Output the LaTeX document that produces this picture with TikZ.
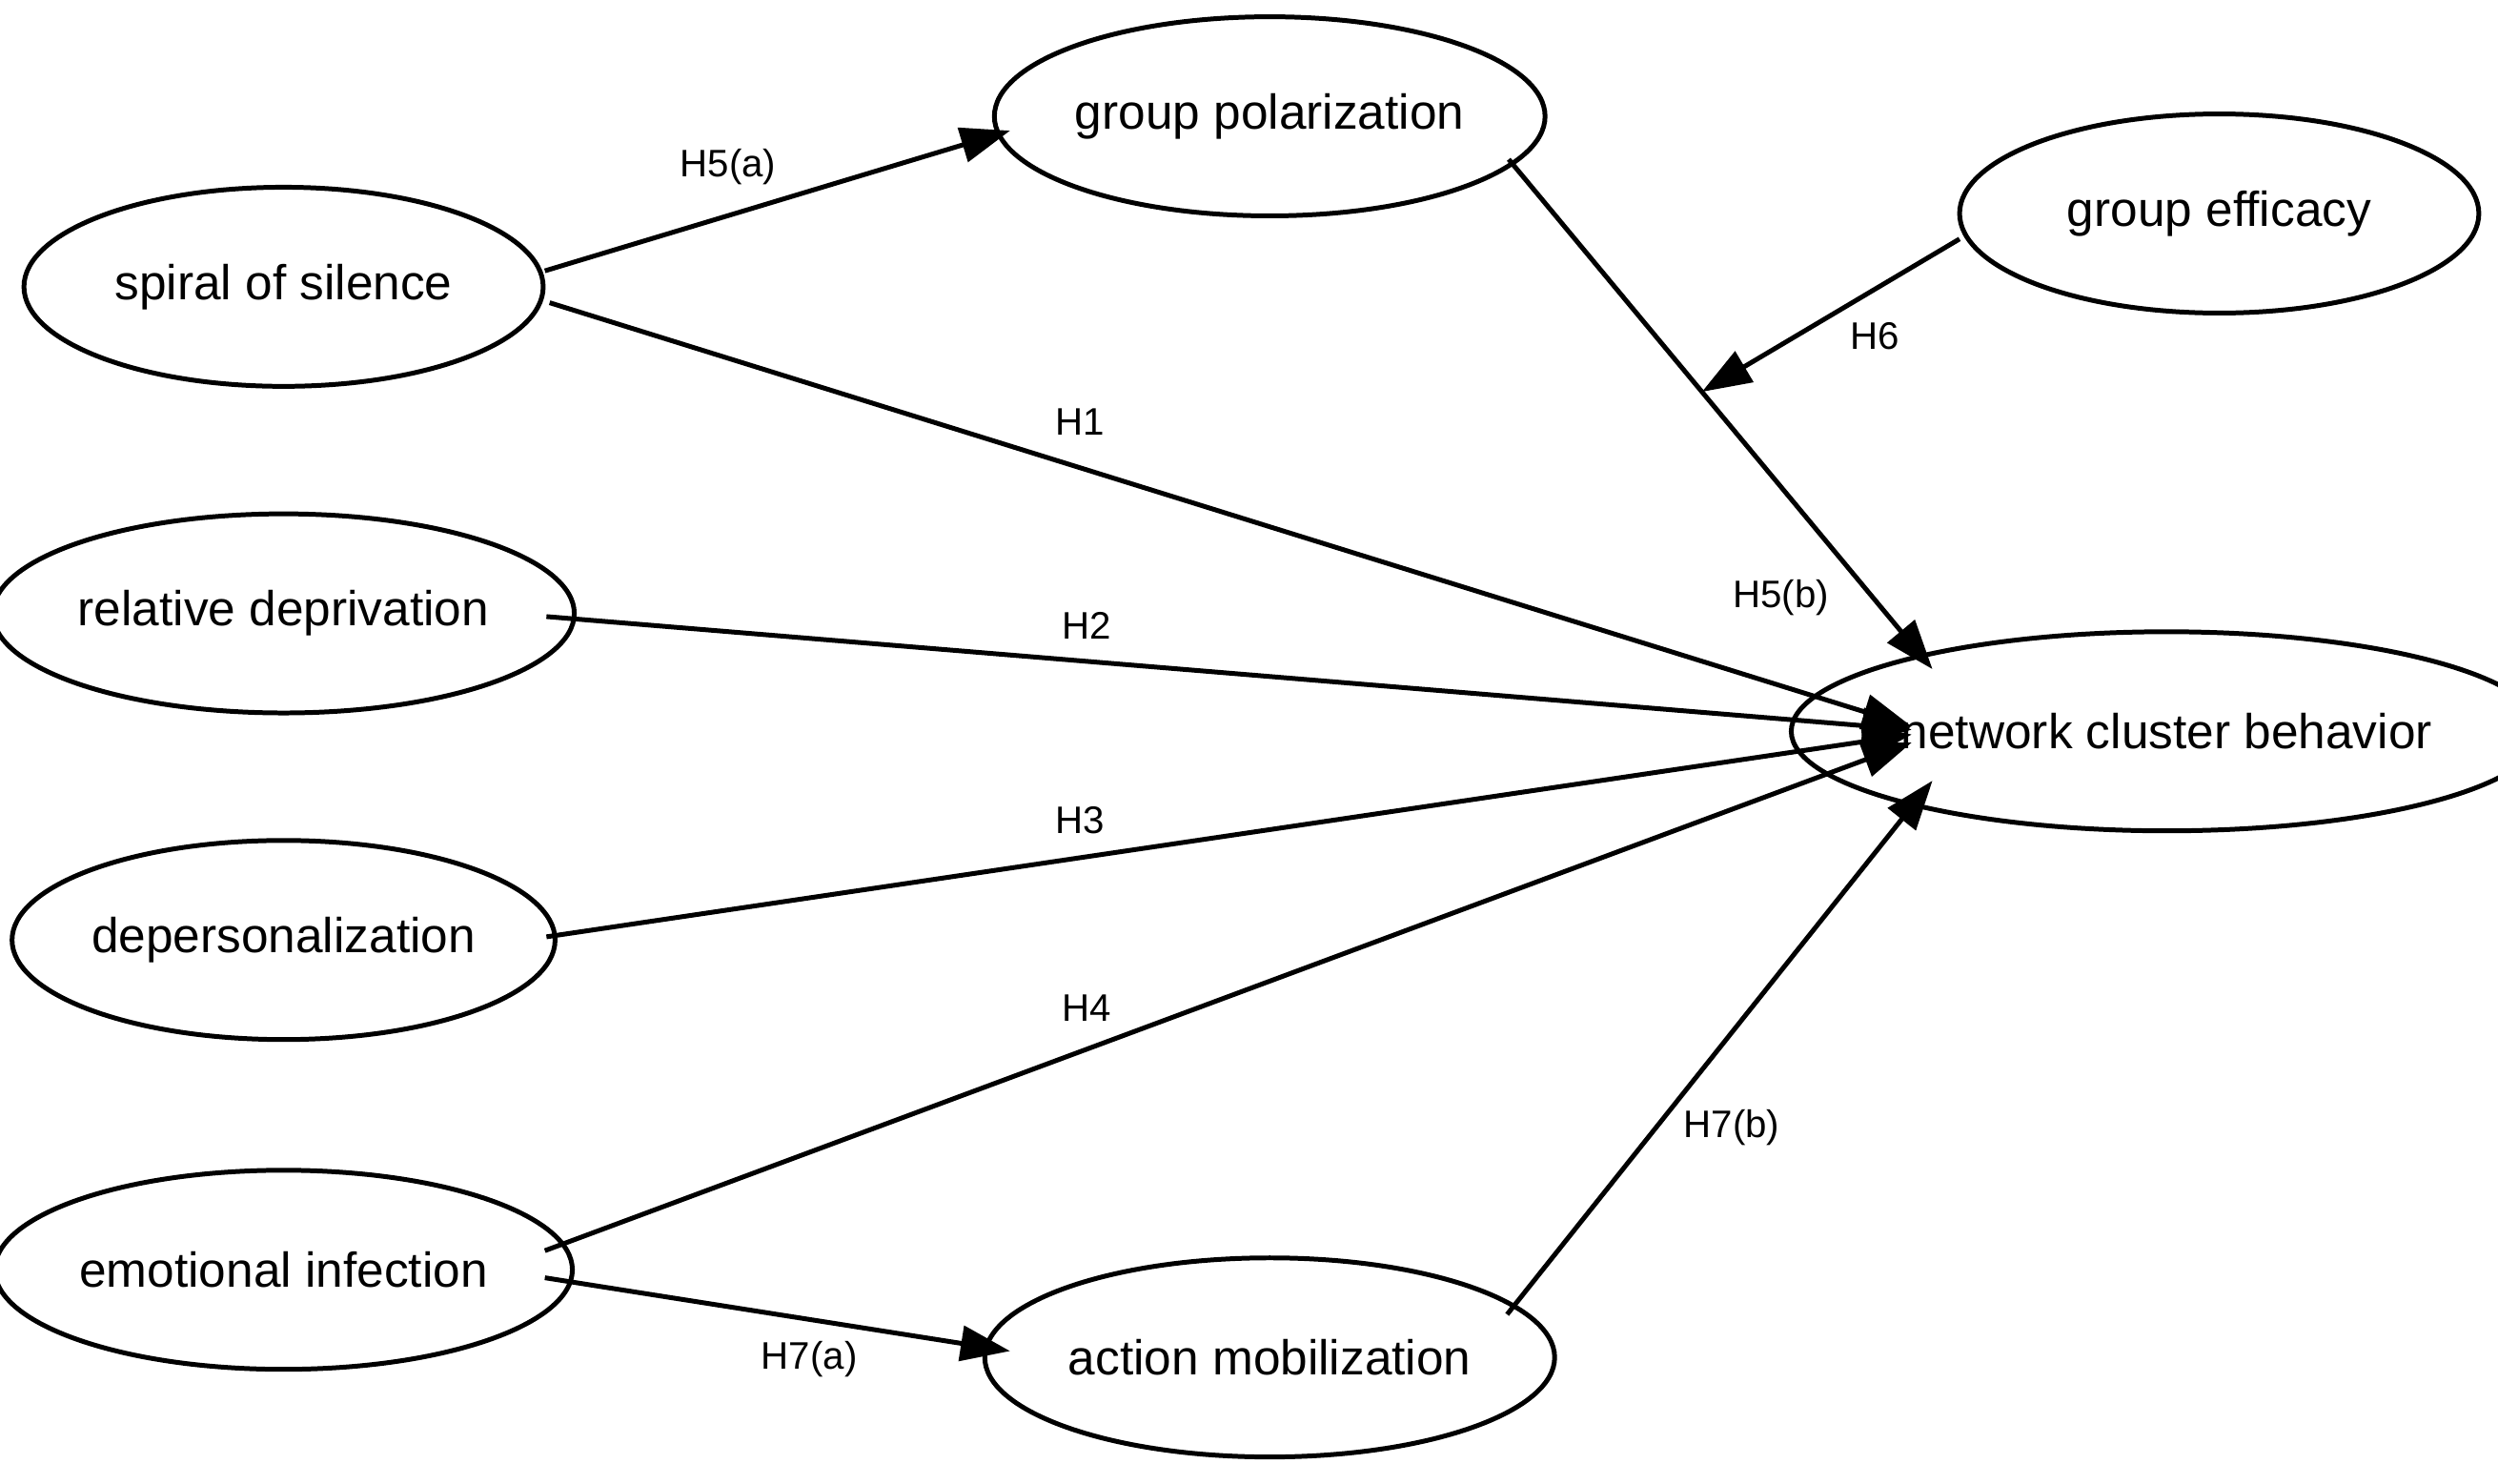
\documentclass[tikz,border=0pt]{standalone}
\usepackage{fontspec}
\setmainfont{Liberation Sans}
\usetikzlibrary{shapes.geometric,arrows.meta}
\begin{document}
\begin{tikzpicture}[x=0.02cm,y=-0.02cm,
  el/.style={ellipse,draw,line width=1.7pt,minimum width=6.52cm,minimum height=2.5cm,font=\fontsize{17.5}{20}\selectfont,inner sep=0pt},
  ar/.style={line width=1.7pt,-{Triangle[length=0.62cm,width=0.44cm]}},
  lb/.style={font=\fontsize{13.7}{16}\selectfont}]
\useasboundingbox[fill=white] (0,0) rectangle (1568,931);
\node[el] (ss) at (178,180) {spiral of silence};
\node[el] (rd) at (178,385) {relative deprivation};
\node[el] (dp) at (178,590) {depersonalization};
\node[el] (ei) at (178,797) {emotional infection};
\node[el] (gp) at (797,73) {group polarization};
\node[el] (am) at (797,852) {action mobilization};
\node[el] (ge) at (1393,134) {group efficacy};
\node[el] (nc) at (1360,459) {network cluster behavior};
\coordinate (ss1) at (342,170); \coordinate (gpw) at (634,82);
\coordinate (ss2) at (345,190); \coordinate (rde) at (343,387);
\coordinate (dpe) at (343,588); \coordinate (ei1) at (342,785);
\coordinate (ei2) at (342,802); \coordinate (amw) at (634,848);
\coordinate (ame) at (946,825); \coordinate (gpe) at (947,100);
\coordinate (gew) at (1230,150);
\coordinate (nc1) at (1200,456); \coordinate (nc2) at (1200,458);
\coordinate (nc3) at (1200,461); \coordinate (nc4) at (1200,466);
\coordinate (ncb) at (1213,490); \coordinate (nct) at (1213,420);
\draw[ar] (ss1) -- (gpw);
\draw[ar] (ss2) -- (nc1);
\draw[ar] (rde) -- (nc2);
\draw[ar] (dpe) -- (nc3);
\draw[ar] (ei1) -- (nc4);
\draw[ar] (ei2) -- (amw);
\draw[ar] (ame) -- (ncb);
\draw[ar] (gpe) -- coordinate[pos=0.456] (m) (nct);
\draw[ar] (gew) -- (m);
\node[lb] (l5a) at (457,105) {H5(a)};
\node[lb] (l1) at (678,265) {H1};
\node[lb] (l2) at (682,393) {H2};
\node[lb] (l3) at (678,515) {H3};
\node[lb] (l4) at (682,633) {H4};
\node[lb] (l7a) at (508,853) {H7(a)};
\node[lb] (l7b) at (1087,708) {H7(b)};
\node[lb] (l5b) at (1118,375) {H5(b)};
\node[lb] (l6) at (1177,211) {H6};
\end{tikzpicture}
\end{document}
